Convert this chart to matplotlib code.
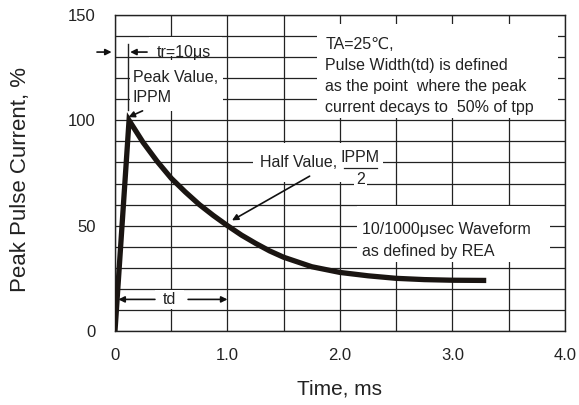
import matplotlib.pyplot as plt
from matplotlib.patches import Rectangle
from matplotlib.ticker import MultipleLocator

plt.rcParams['font.family'] = ['Liberation Sans', 'DejaVu Sans']

# waveform (time in ms, current in % of peak)
time_ms = [0, 0.125, 0.25, 0.375, 0.5, 0.625, 0.75, 0.875, 1.0, 1.125, 1.25, 1.375, 1.5,
           1.75, 2.0, 2.25, 2.5, 2.75, 3.0, 3.3]
current = [0, 100, 89.5, 80.5, 72.5, 66, 60, 54.8, 50, 45.5, 41.6, 38, 35,
           30.5, 27.8, 26.2, 25.0, 24.4, 24.1, 24.0]

x_ticks = [0, 1, 2, 3, 4]
x_labels = ['0', '1.0', '2.0', '3.0', '4.0']
y_ticks = [0, 50, 100, 150]
y_labels = ['0', '50', '100', '150']

fig = plt.figure(figsize=(5.79, 4.05), dpi=100)
ax = fig.add_axes([0.1986, 0.1827, 0.7772, 0.7803])

ax.set_xlim(0, 4)
ax.set_ylim(0, 150)
ax.set_xticks(x_ticks)
ax.set_xticklabels(x_labels)
ax.set_yticks(y_ticks)
ax.set_yticklabels(y_labels)
ax.xaxis.set_minor_locator(MultipleLocator(0.5))
ax.yaxis.set_minor_locator(MultipleLocator(10))
ax.tick_params(which='both', length=0)
ax.tick_params(axis='x', pad=12, labelsize=12, colors='#222222')
ax.tick_params(axis='y', pad=14, labelsize=12, colors='#222222')
ax.grid(which='both', color='#222222', linewidth=0.9)
ax.set_axisbelow(True)
for s in ax.spines.values():
    s.set_color('#222222')
    s.set_linewidth(1.0)

ax.set_xlabel('Time, ms', fontsize=15, color='#222222', labelpad=12)
ax.set_ylabel('Peak Pulse Current, %', fontsize=16, color='#222222')
ax.yaxis.set_label_coords(-0.187, 0.48)

# white areas behind the notes
boxes = [(1.80, 101, 2.14, 44.5),
         (0.30, 130.5, 0.65, 9),
         (0.13, 104.5, 0.83, 24),
         (1.23, 70.6, 1.15, 18.8),
         (2.15, 32.8, 1.72, 26.5),
         (0.36, 10.5, 0.25, 9)]
for bx, by, bw, bh in boxes:
    ax.add_patch(Rectangle((bx, by), bw, bh, facecolor='white', edgecolor='none', zorder=1.5))

ax.plot(time_ms, current, color='#1a1512', linewidth=3.8, solid_capstyle='butt',
        solid_joinstyle='miter', zorder=3)

tc = '#222222'
fs = 11.5
ax.text(1.87, 121, 'TA=25℃,\nPulse Width(td) is defined\nas the point  where the peak\ncurrent decays to  50% of tpp',
        fontsize=fs, color=tc, va='center', ha='left', linespacing=1.52, zorder=4)
ax.text(0.37, 132.4, 'tr=10μs', fontsize=fs, color=tc, va='center', ha='left', zorder=4)
ax.text(0.16, 115.5, 'Peak Value,\nIPPM', fontsize=fs, color=tc, va='center', ha='left',
        linespacing=1.47, zorder=4)
ax.text(1.29, 80, 'Half Value,', fontsize=fs, color=tc, va='center', ha='left', zorder=4)
ax.text(2.18, 82.2, 'IPPM', fontsize=fs, color=tc, va='center', ha='center', zorder=4)
ax.plot([2.04, 2.33], [77.3, 77.3], color=tc, linewidth=0.9, zorder=4)
ax.text(2.18, 72, '2', fontsize=fs, color=tc, va='center', ha='center', zorder=4,
        bbox=dict(facecolor='white', edgecolor='none', pad=1.5))
ax.text(2.2, 51.6, '10/1000μsec Waveform\nas defined by REA', fontsize=fs, color=tc,
        va='top', ha='left', linespacing=1.52, zorder=4)
ax.text(0.485, 15, 'td', fontsize=fs, color=tc, va='center', ha='center', zorder=4)

arrow = dict(arrowstyle='-|>', color='#111111', linewidth=1.2, mutation_scale=9,
             shrinkA=0, shrinkB=0)
# tr markers
ax.plot([0.115, 0.115], [105, 136], color=tc, linewidth=1.0, zorder=4)
ax.annotate('', xy=(-0.03, 132.4), xytext=(-0.16, 132.4), arrowprops=arrow,
            annotation_clip=False, zorder=4)
ax.annotate('', xy=(0.135, 132.4), xytext=(0.285, 132.4), arrowprops=arrow, zorder=4)
# peak pointer
ax.annotate('', xy=(0.12, 101.5), xytext=(0.245, 104.5), arrowprops=arrow, zorder=4)
# half value pointer
ax.annotate('', xy=(1.04, 52.5), xytext=(1.73, 73.5), arrowprops=arrow, zorder=4)
# td arrows
ax.annotate('', xy=(0.03, 15), xytext=(0.355, 15), arrowprops=arrow, zorder=4)
ax.annotate('', xy=(1.0, 15), xytext=(0.65, 15), arrowprops=arrow, zorder=4)

fig.savefig('out.png', dpi=100)
